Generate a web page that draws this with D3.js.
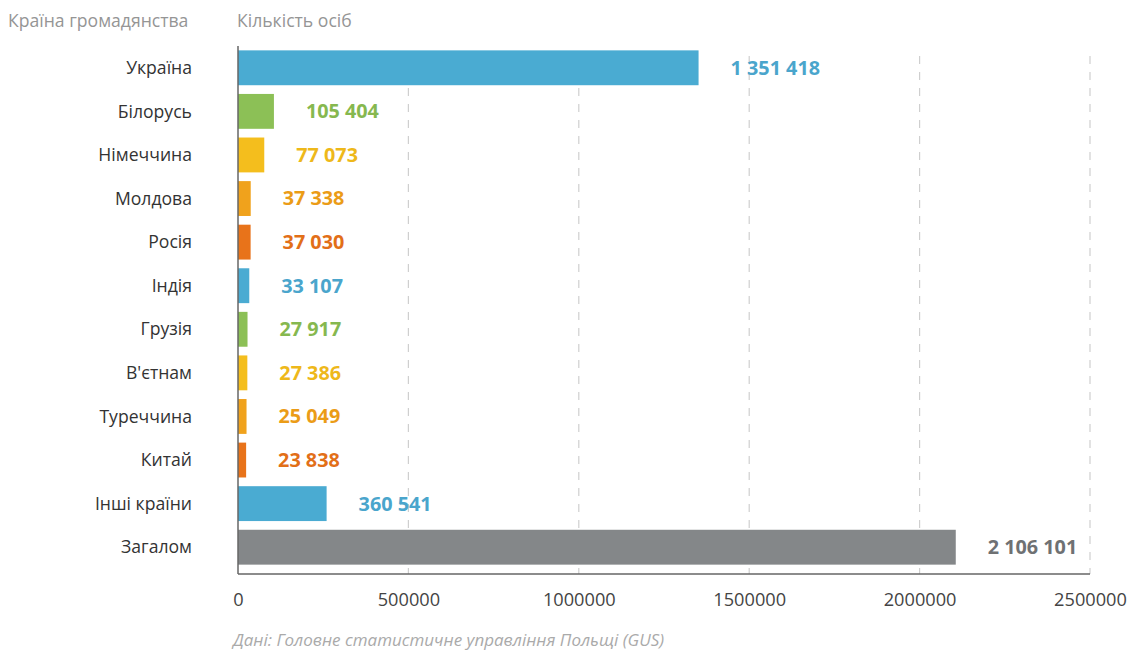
<!DOCTYPE html>
<html><head><meta charset="utf-8">
<script src="https://cdn.jsdelivr.net/npm/d3@7"></script>
<style>
body{margin:0;background:#fff;}
text{font-family:"Open Sans","Noto Sans",sans-serif;}
</style></head>
<body>
<svg id="c" width="1136" height="653"></svg>
<script>
const categories = ["Україна","Білорусь","Німеччина","Молдова","Росія","Індія","Грузія","В'єтнам","Туреччина","Китай","Інші країни","Загалом"];
// bar lengths as drawn in the reference ("Інші країни" bar is drawn shorter than its label)
const barValues = [1351418,105404,77073,37338,37030,33107,27917,27386,25049,23838,260000,2106101];
const valueLabels = ["1 351 418","105 404","77 073","37 338","37 030","33 107","27 917","27 386","25 049","23 838","360 541","2 106 101"];
const tickValues = [0,500000,1000000,1500000,2000000,2500000];

const palette = ["#4aabd2","#8cc056","#f4be1d","#f0a21c","#e8731a","#4aabd2","#8cc056","#f4be1d","#f0a21c","#e8731a","#4aabd2","#848789"];
const textPalette = ["#4aa5cc","#86b84f","#eeb81a","#eb9c17","#e26f18","#4aa5cc","#86b84f","#eeb81a","#eb9c17","#e26f18","#4aa5cc","#6f7173"];

const svg = d3.select("#c");
const x0 = 238, x1 = 1090, yTop = 46, yBot = 569, axisY = 574;
const x = d3.scaleLinear().domain([0,2500000]).range([x0,x1]);
const y = d3.scaleBand().domain(categories).range([yTop,yBot]).paddingInner(0.2).paddingOuter(0.1);

// gridlines
svg.append("g").selectAll("line").data(tickValues.slice(1)).join("line")
  .attr("x1",d=>x(d)).attr("x2",d=>x(d)).attr("y1",yTop+10).attr("y2",axisY)
  .attr("stroke","#cfcfcf").attr("stroke-width",1.2).attr("stroke-dasharray","8,8");

// bars
svg.append("g").selectAll("rect").data(barValues).join("rect")
  .attr("x",x(0)).attr("y",(d,i)=>y(categories[i]))
  .attr("width",d=>x(d)-x(0)).attr("height",y.bandwidth())
  .attr("fill",(d,i)=>palette[i]);

// value labels
svg.append("g").selectAll("text").data(barValues).join("text")
  .attr("x",d=>x(d)+32).attr("y",(d,i)=>y(categories[i])+y.bandwidth()/2)
  .attr("dy","0.35em").attr("font-size",19.8).attr("font-weight",700)
  .attr("fill",(d,i)=>textPalette[i]).text((d,i)=>valueLabels[i]);

// axes lines
svg.append("line").attr("x1",x0).attr("x2",x0).attr("y1",yTop).attr("y2",axisY).attr("stroke","#666").attr("stroke-width",1.5);
svg.append("line").attr("x1",x0).attr("x2",x1).attr("y1",axisY).attr("y2",axisY).attr("stroke","#666").attr("stroke-width",1.5);

// category labels
svg.append("g").selectAll("text").data(categories).join("text")
  .attr("x",192).attr("y",d=>y(d)+y.bandwidth()/2).attr("dy","0.35em")
  .attr("text-anchor","end").attr("font-size",17.6).attr("fill","#333").text(d=>d);

// x tick labels
const xAxis = d3.axisBottom(x).tickValues(tickValues).tickFormat(d3.format("d")).tickSize(0).tickPadding(0);
const gx = svg.append("g").attr("transform",`translate(0,${axisY})`).call(xAxis);
gx.select(".domain").remove();
gx.selectAll("text").attr("y",26).attr("dy","0.35em").attr("font-size",18.2).attr("fill","#444").attr("font-family","Open Sans, Noto Sans, sans-serif");

// headers
svg.append("text").attr("x",8).attr("y",27).attr("font-size",17.6).attr("fill","#959595").text("Країна громадянства");
svg.append("text").attr("x",237).attr("y",27).attr("font-size",17.6).attr("fill","#959595").text("Кількість осіб");
svg.append("text").attr("x",233).attr("y",646).attr("font-size",17).attr("font-style","italic").attr("fill","#aaa").text("Дані: Головне статистичне управління Польщі (GUS)");
</script>
</body></html>
